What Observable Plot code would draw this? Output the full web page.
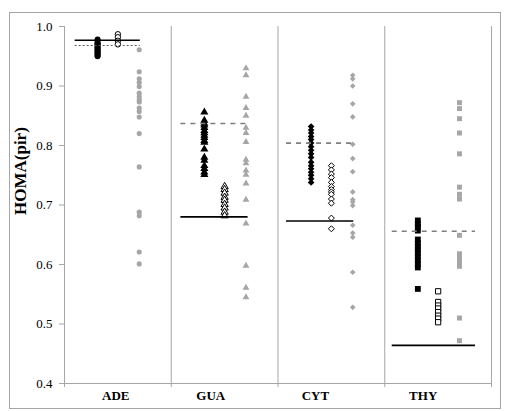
<!DOCTYPE html>
<html>
<head>
<meta charset="utf-8">
<script src="https://cdn.jsdelivr.net/npm/d3@7"></script>
<script src="https://cdn.jsdelivr.net/npm/@observablehq/plot@0.6"></script>
<style>
  body { margin: 0; background: #fff; }
  #wrap { position: relative; width: 509px; height: 411px; }
  #border { position: absolute; left: 9px; top: 12px; width: 490px; height: 395px; border: 1px solid #a6a6a6; pointer-events: none; }
</style>
</head>
<body>
<div id="wrap"><div id="border"></div></div>
<script>
const categories = ["ADE", "GUA", "CYT", "THY"];
const categoryLabelX = [0.48, 1.37, 2.35, 3.36];
const yTicks = [0.4, 0.5, 0.6, 0.7, 0.8, 0.9, 1.0];
const symbols = ["circle", "triangle", "diamond2", "square"];

// filled black markers
const blackValues = [
  [0.978, 0.975, 0.972, 0.970, 0.968, 0.966, 0.964, 0.962, 0.960, 0.958, 0.956, 0.954, 0.952, 0.950],
  [0.856, 0.842, 0.837, 0.834, 0.830, 0.825, 0.821, 0.817, 0.813, 0.808, 0.805, 0.794, 0.780, 0.775, 0.766, 0.761, 0.755, 0.751],
  [0.832, 0.826, 0.821, 0.815, 0.810, 0.804, 0.798, 0.792, 0.786, 0.780, 0.772, 0.766, 0.761, 0.755, 0.750, 0.744, 0.738],
  [0.674, 0.668, 0.663, 0.657, 0.642, 0.636, 0.630, 0.625, 0.619, 0.613, 0.607, 0.601, 0.595, 0.559]
];
// open (white) markers
const openValues = [
  [0.987, 0.982, 0.976, 0.970],
  [0.731, 0.726, 0.720, 0.713, 0.708, 0.701, 0.695, 0.688, 0.682],
  [0.766, 0.759, 0.752, 0.746, 0.738, 0.731, 0.726, 0.722, 0.718, 0.710, 0.703, 0.678, 0.660],
  [0.555, 0.537, 0.531, 0.526, 0.520, 0.514, 0.509, 0.503]
];
// grey markers
const greyValues = [
  [0.961, 0.924, 0.912, 0.906, 0.899, 0.888, 0.882, 0.877, 0.873, 0.863, 0.857, 0.848, 0.820, 0.764, 0.688, 0.682, 0.621, 0.601],
  [0.930, 0.918, 0.882, 0.863, 0.850, 0.830, 0.821, 0.806, 0.776, 0.770, 0.758, 0.751, 0.736, 0.709, 0.669, 0.598, 0.561, 0.545],
  [0.918, 0.912, 0.900, 0.870, 0.848, 0.802, 0.778, 0.756, 0.722, 0.709, 0.705, 0.699, 0.666, 0.653, 0.646, 0.587, 0.528],
  [0.872, 0.862, 0.845, 0.821, 0.786, 0.730, 0.718, 0.710, 0.649, 0.618, 0.611, 0.604, 0.597, 0.510, 0.472]
];
const seriesOffset = [0.31, 0.50, 0.70];

// reference levels per category
const solidLevels = [0.977, 0.680, 0.673, 0.464];
const dashedLevels = [0.968, 0.837, 0.804, 0.656];
const lineStart = [0.10, 1.09, 2.08, 3.07];
const lineEnd = [0.71, 1.72, 2.71, 3.85];

const rows = [];
[blackValues, openValues, greyValues].forEach((series, s) => {
  series.forEach((vals, i) => {
    vals.forEach(v => rows.push({x: i + seriesOffset[s], y: v, s, sym: symbols[i], cat: categories[i]}));
  });
});
const lines = categories.map((c, i) => ({cat: c, i, x1: lineStart[i], x2: lineEnd[i], solid: solidLevels[i], dashed: dashedLevels[i]}));

const rFor = (d) => {
  const base = {circle: 3, triangle: 3.0, diamond2: 3.0, square: 3.3}[d.sym];
  return d.s === 2 ? base * 0.85 : (d.s === 1 ? base * 0.9 : base);
};

const chart = Plot.plot({
  width: 509,
  height: 411,
  marginLeft: 64,
  marginRight: 18,
  marginTop: 26,
  marginBottom: 28,
  x: {domain: [0, 4], axis: null},
  y: {domain: [0.4, 1.0], axis: null},
  r: {type: "identity"},
  style: {fontFamily: "'Liberation Serif', 'Times New Roman', serif", background: "transparent"},
  marks: [
    Plot.ruleX([1, 2, 3, 4], {y1: 0.4, y2: 1.0, stroke: "#a6a6a6", strokeWidth: 1}),
    Plot.ruleX([0], {y1: 0.4, y2: 1.0, stroke: "#a6a6a6", strokeWidth: 1}),
    Plot.ruleY([0.4], {x1: 0, x2: 4, stroke: "#a6a6a6", strokeWidth: 1}),
    Plot.axisY({ticks: yTicks, tickFormat: d3.format(".1f"), tickSize: 5, tickPadding: 7, stroke: "#a6a6a6", fill: "#000", fontSize: 13, label: null}),
    Plot.axisX({ticks: [0, 1, 2, 3, 4], tickFormat: () => "", tickSize: 4, stroke: "#a6a6a6", label: null}),
    Plot.text(categories, {x: (d, i) => categoryLabelX[i], y: 0.4, dy: 12, text: d => d, fontWeight: "bold", fontSize: 13, fill: "#000"}),
    Plot.text(["HOMA(pir)"], {frameAnchor: "left", rotate: -90, dx: -44, dy: 10, text: d => d, fontWeight: "bold", fontSize: 17, fill: "#000"}),
    // grey markers
    Plot.dot(rows.filter(d => d.s === 2), {x: "x", y: "y", symbol: "sym", r: rFor, fill: "#a6a6a6", stroke: "none"}),
    // black filled markers
    Plot.dot(rows.filter(d => d.s === 0), {x: "x", y: "y", symbol: "sym", r: rFor, fill: "#000", stroke: "none"}),
    // open markers
    Plot.dot(rows.filter(d => d.s === 1), {x: "x", y: "y", symbol: "sym", r: rFor, fill: "#fff", stroke: "#000", strokeWidth: 1}),
    // reference lines
    Plot.ruleY(lines.filter(d => d.i > 0), {y: "dashed", x1: "x1", x2: "x2", stroke: "#7f7f7f", strokeWidth: 1.6, strokeDasharray: "5,5"}),
    Plot.ruleY(lines.filter(d => d.i === 0), {y: "dashed", x1: "x1", x2: "x2", stroke: "#595959", strokeWidth: 1, strokeDasharray: "2,2"}),
    Plot.ruleY(lines, {y: "solid", x1: "x1", x2: "x2", stroke: "#000", strokeWidth: 1.6})
  ]
});
document.getElementById("wrap").prepend(chart);
chart.style.position = "absolute";
chart.style.left = "0";
chart.style.top = "0";
</script>
</body>
</html>
